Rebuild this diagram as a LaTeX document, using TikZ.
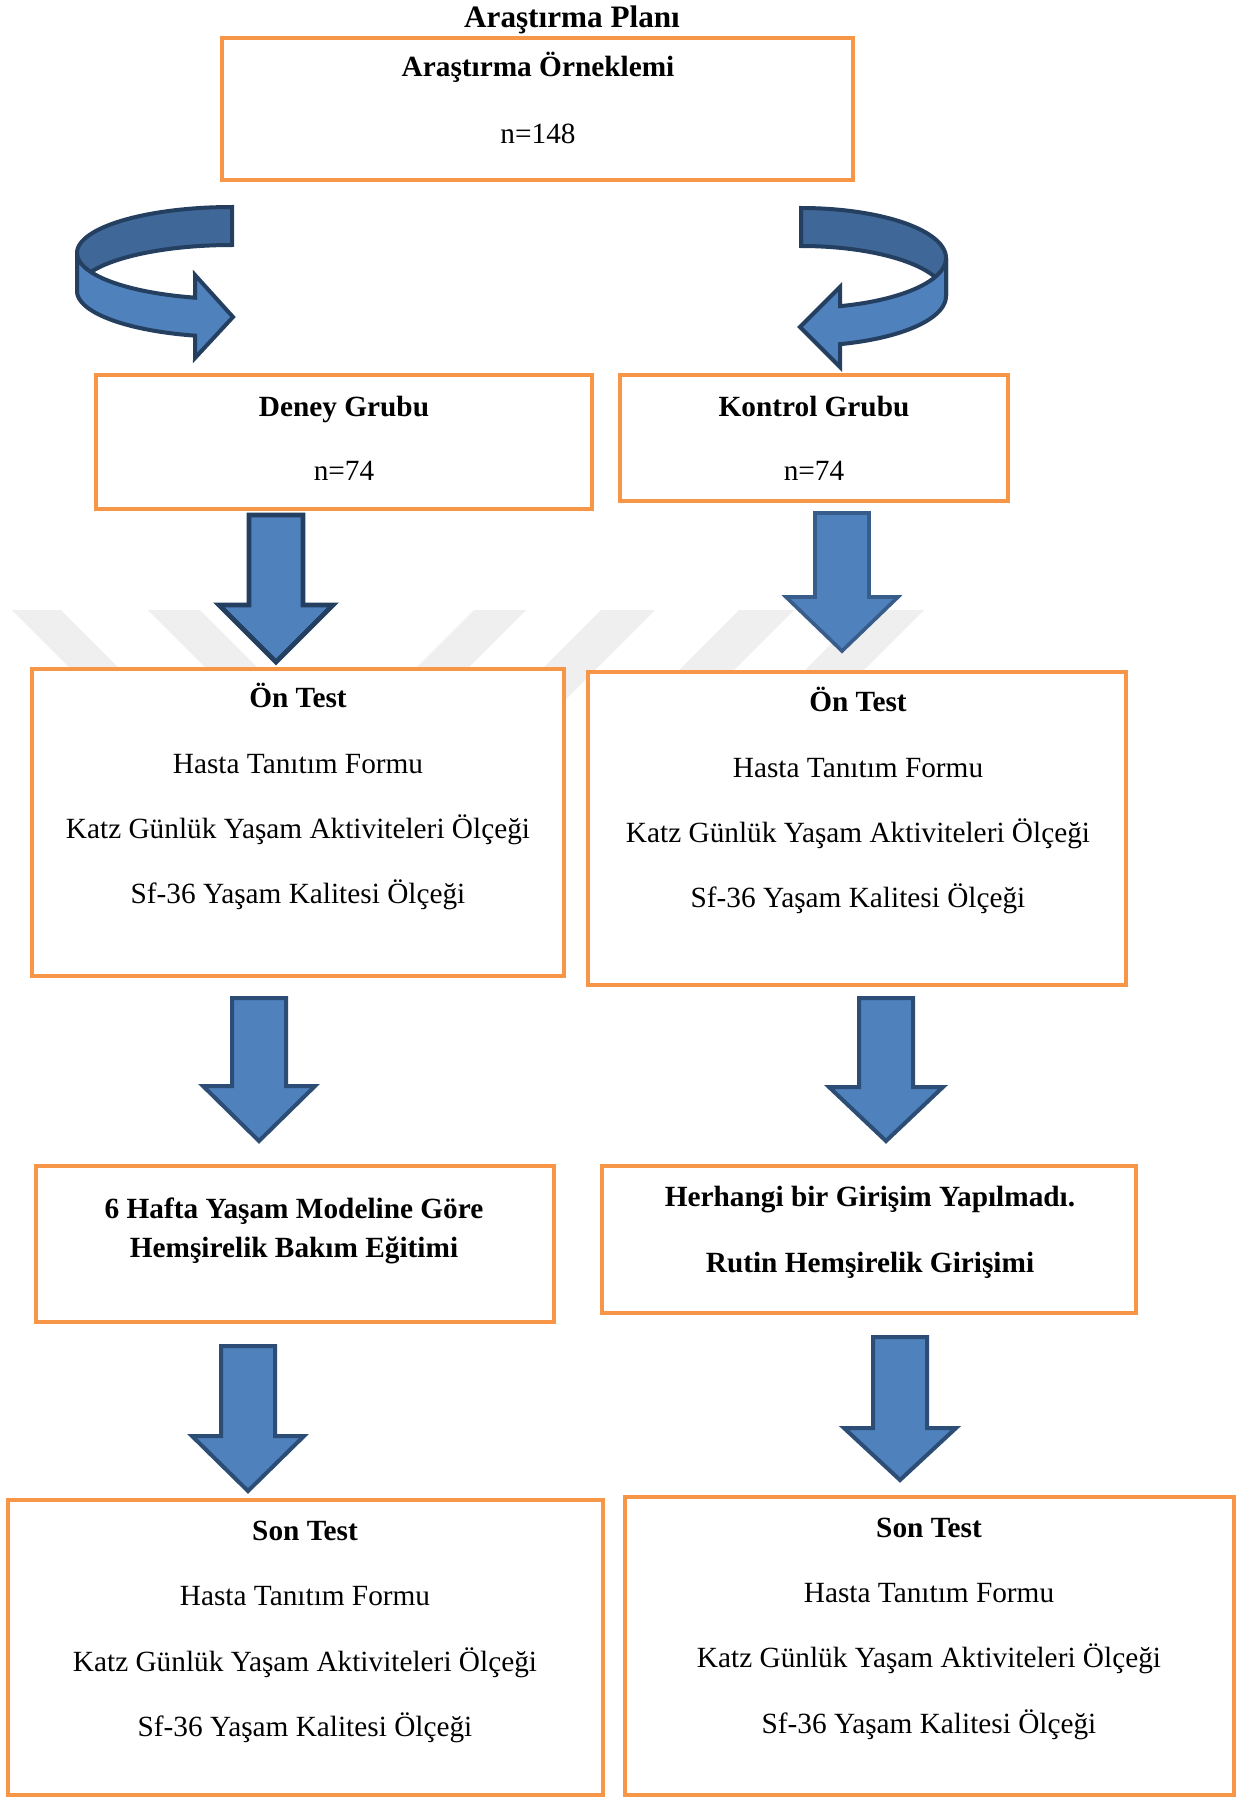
\documentclass[tikz,border=0pt]{standalone}
\usepackage{fontspec}
\setmainfont{Liberation Serif}
\definecolor{boxorange}{HTML}{F79646}
\definecolor{afill}{HTML}{4F81BD}
\definecolor{aback}{HTML}{3F6797}
\definecolor{adark}{HTML}{243F60}
\definecolor{amid}{HTML}{385D8A}
\definecolor{amid2}{HTML}{2C4D75}
\definecolor{wmark}{HTML}{EFEFEF}
\newcommand\blkarrow[7]{%
  \draw[#1] (#2-#6,#3) -- (#2+#6,#3) -- (#2+#6,#4) -- (#2+#7,#4) -- (#2,#5)
     -- (#2-#7,#4) -- (#2-#6,#4) -- cycle;}
\begin{document}
\begin{tikzpicture}[x=0.5pt,y=-0.5pt,
  box/.style={draw=boxorange, line width=2.25pt, fill=white},
  txt/.style={anchor=base, inner sep=0pt, font=\fontsize{14.65}{17}\selectfont},
  btxt/.style={anchor=base, inner sep=0pt, font=\fontsize{14.65}{17}\selectfont\bfseries},
  ttxt/.style={anchor=base, inner sep=0pt, font=\fontsize{15.6}{18}\selectfont\bfseries},
  arrowA/.style={fill=afill, draw=adark, line width=2.4pt, line join=miter},
  arrowB/.style={fill=afill, draw=amid, line width=1.8pt, line join=miter},
  arrowC/.style={fill=afill, draw=amid2, line width=2pt, line join=miter},
  cback/.style={fill=aback, draw=adark, line width=2pt, line join=miter},
  cfront/.style={fill=afill, draw=adark, line width=2pt, line join=miter},
  wm/.style={fill=wmark, draw=none}]
\useasboundingbox (0,0) rectangle (1242,1798);
\fill[white] (0,0) rectangle (1242,1798);

% watermark bands
\fill[wm] (12,610) -- (61,610) -- (151,700) -- (102,700) -- cycle;
\fill[wm] (148,610) -- (200,610) -- (290,700) -- (238,700) -- cycle;
\fill[wm] (474,610) -- (526,610) -- (436,700) -- (384,700) -- cycle;
\fill[wm] (601,610) -- (655,610) -- (565,700) -- (511,700) -- cycle;
\fill[wm] (739,610) -- (794,610) -- (704,700) -- (649,700) -- cycle;
\fill[wm] (865,610) -- (924,610) -- (834,700) -- (775,700) -- cycle;

% title
\node[ttxt] (title) at (572,28) {Araştırma Planı};

% boxes
\draw[box] (222,38) rectangle (853,180);
\draw[box] (96,375) rectangle (592,509);
\draw[box] (620,375) rectangle (1008,501);
\draw[box] (32,669) rectangle (564,976);
\draw[box] (588,672) rectangle (1126,985);
\draw[box] (36,1166) rectangle (554,1322);
\draw[box] (602,1166) rectangle (1136,1313);
\draw[box] (8,1500) rectangle (603,1795);
\draw[box] (625,1497) rectangle (1234,1795);

% texts
\node[btxt] (s1) at (538,77) {Araştırma Örneklemi};
\node[txt]  (s2) at (538,143) {n=148};

\node[btxt] (d1) at (344,416) {Deney Grubu};
\node[txt]  (d2) at (344,480) {n=74};
\node[btxt] (k1) at (814,416) {Kontrol Grubu};
\node[txt]  (k2) at (814,480) {n=74};

\node[btxt] (ol1) at (298,707) {Ön Test};
\node[txt]  (ol2) at (298,773) {Hasta Tanıtım Formu};
\node[txt]  (ol3) at (298,838) {Katz Günlük Yaşam Aktiviteleri Ölçeği};
\node[txt]  (ol4) at (298,903) {Sf-36 Yaşam Kalitesi Ölçeği};

\node[btxt] (or1) at (858,711) {Ön Test};
\node[txt]  (or2) at (858,777) {Hasta Tanıtım Formu};
\node[txt]  (or3) at (858,842) {Katz Günlük Yaşam Aktiviteleri Ölçeği};
\node[txt]  (or4) at (858,907) {Sf-36 Yaşam Kalitesi Ölçeği};

\node[btxt] (h1) at (294,1218) {6 Hafta Yaşam Modeline Göre};
\node[btxt] (h2) at (294,1257) {Hemşirelik Bakım Eğitimi};

\node[btxt] (r1) at (870,1206) {Herhangi bir Girişim Yapılmadı.};
\node[btxt] (r2) at (870,1272) {Rutin Hemşirelik Girişimi};

\node[btxt] (sl1) at (305,1540) {Son Test};
\node[txt]  (sl2) at (305,1605) {Hasta Tanıtım Formu};
\node[txt]  (sl3) at (305,1671) {Katz Günlük Yaşam Aktiviteleri Ölçeği};
\node[txt]  (sl4) at (305,1736) {Sf-36 Yaşam Kalitesi Ölçeği};

\node[btxt] (sr1) at (929,1537) {Son Test};
\node[txt]  (sr2) at (929,1602) {Hasta Tanıtım Formu};
\node[txt]  (sr3) at (929,1667) {Katz Günlük Yaşam Aktiviteleri Ölçeği};
\node[txt]  (sr4) at (929,1733) {Sf-36 Yaşam Kalitesi Ölçeği};

% curved arrows (left)
\draw[cback] plot[domain=270:180,samples=50] ({232+155*cos(\x)},{253+46*sin(\x)})
  -- plot[domain=180:270,samples=50] ({232+155*cos(\x)},{291+46*sin(\x)}) -- cycle;
\draw[cfront] plot[domain=180:103.8,samples=50] ({232+155*cos(\x)},{253+46*sin(\x)})
  -- (195,275) -- (233,317) -- (195,358)
  -- plot[domain=103.8:180,samples=50] ({232+155*cos(\x)},{291+46*sin(\x)}) -- cycle;

% curved arrows (right)
\draw[cback] plot[domain=270:360,samples=50] ({801+145*cos(\x)},{258+50*sin(\x)})
  -- plot[domain=360:270,samples=50] ({801+145*cos(\x)},{296+50*sin(\x)}) -- cycle;
\draw[cfront] plot[domain=0:74.4,samples=50] ({801+145*cos(\x)},{258+50*sin(\x)})
  -- (840,287) -- (800,327) -- (840,367)
  -- plot[domain=74.4:0,samples=50] ({801+145*cos(\x)},{296+50*sin(\x)}) -- cycle;

% block arrows
\blkarrow{arrowA}{276}{515}{605}{662}{27}{57}
\blkarrow{arrowB}{842}{513}{597}{651}{27}{56}
\blkarrow{arrowC}{259}{998}{1086}{1141}{27}{56}
\blkarrow{arrowC}{886}{998}{1087}{1141}{27}{57}
\blkarrow{arrowC}{248}{1346}{1436}{1491}{27}{56}
\blkarrow{arrowC}{900}{1337}{1428}{1480}{27}{56}
\end{tikzpicture}
\end{document}
